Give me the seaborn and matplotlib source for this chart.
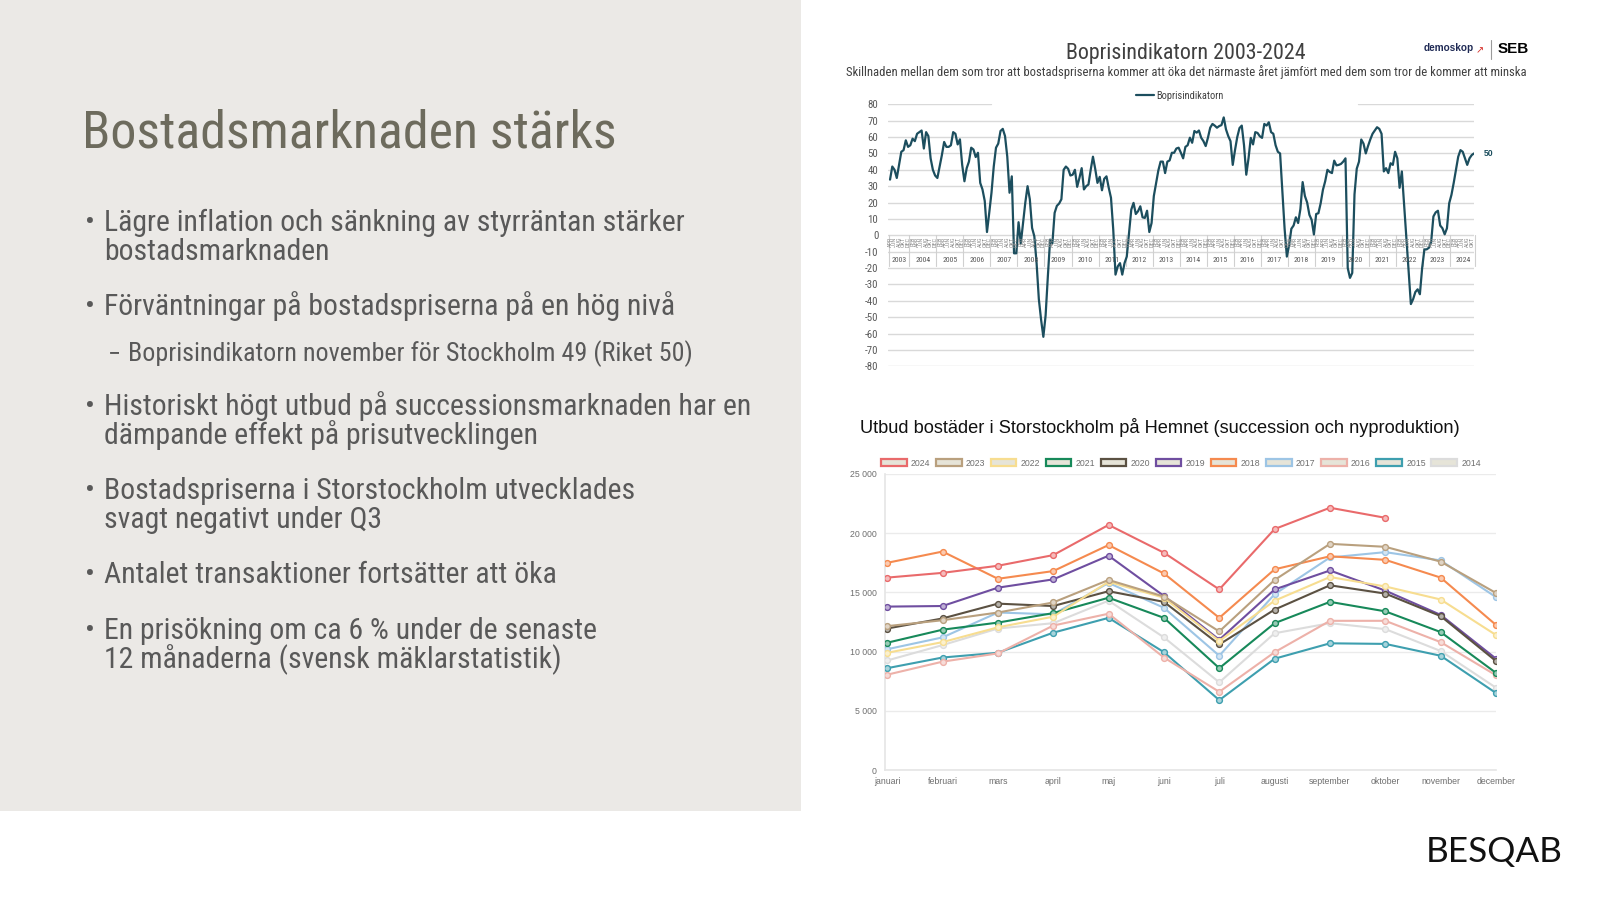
import numpy as np
import pandas as pd
import seaborn as sns
import matplotlib
matplotlib.use("Agg")
import matplotlib.pyplot as plt
from matplotlib import font_manager
from matplotlib.patches import Rectangle, Patch
from matplotlib.lines import Line2D
from matplotlib.colors import to_rgb

# ---------------- data ----------------
slide_title = "Bostadsmarknaden stärks"
bullets = [
    ("•", ["Lägre inflation och sänkning av styrräntan stärker", "bostadsmarknaden"]),
    ("•", ["Förväntningar på bostadspriserna på en hög nivå"]),
    ("−", ["Boprisindikatorn november för Stockholm 49 (Riket 50)"]),
    ("•", ["Historiskt högt utbud på successionsmarknaden har en", "dämpande effekt på prisutvecklingen"]),
    ("•", ["Bostadspriserna i Storstockholm utvecklades", "svagt negativt under Q3"]),
    ("•", ["Antalet transaktioner fortsätter att öka"]),
    ("•", ["En prisökning om ca 6 % under de senaste", "12 månaderna (svensk mäklarstatistik)"]),
]

bpi_title = "Boprisindikatorn 2003-2024"
bpi_subtitle = ("Skillnaden mellan dem som tror att bostadspriserna kommer att öka det närmaste året "
                "jämfört med dem som tror de kommer att minska")
bpi_label = "Boprisindikatorn"
bpi_start = "2003-04"
bpi_values = [
    34, 42, 40, 35, 43, 51, 52, 58, 54, 55,
    59, 57.5, 62, 63, 64, 53, 63, 60.6, 47, 40,
    36.5, 35, 42, 49, 57, 54, 54, 55, 63, 62,
    55.5, 58.6, 43, 33, 41, 45, 53.5, 52.4, 47.8, 50.4,
    32, 28, 21, 2, 13.7, 26, 42, 53.5, 56, 63.7,
    65, 60.6, 48, 26, 36, -11, -11, 8, -5, 7.5,
    20, 30, 22, 4.5, -0.6, -17, -39, -51.6, -62, -49,
    -25, -2.6, -5, 13.7, 18, 19.4, 22, 40, 42, 40.6,
    36.5, 37, 40, 29.6, 35, 41, 28, 30, 31,
    40, 48, 40.6, 32, 35.7, 27.5, 34.5, 36, 29, 22.9,
    3.5, -24, -19, -17, -24, -17, -13, 1.4, 15.7, 19.8,
    13, 14.7, 17.7, 11, 10.6, 15, 2, 7.5, 24, 32,
    39.6, 45, 45, 38, 45, 45.7, 50.4, 50.4, 53, 53.5,
    50.4, 47, 54, 55, 59.6, 56.5, 63.7, 62.7, 64, 59.6,
    57.5, 54.5, 59.6, 65.7, 68, 67, 65.7, 66.7, 67.3, 72,
    64.7, 60.6,
    57.5, 43, 52, 60, 65.5, 67, 55, 37, 47, 59.5,
    55.5, 63, 62.5, 60.5, 59.5, 68, 67, 69, 63, 62,
    55, 51, 50, 27, 4, -13, -6, 4, 6, 11,
    7.5, 16, 32.5, 24, 20, 12.5, 9.4, 0.5, 13, 13.5,
    19.6, 27.8, 33, 40, 38.7, 38, 45.6, 42.7, 43, 43.6,
    45, 47, -20, -26, -23, 25, 40.7, 45, 58.5, 56,
    50, 54.5, 58.5, 62, 64, 66, 65, 62, 39, 41,
    38, 44, 43, 51, 47, 29, 39, 18.6, -2, -22,
    -42, -39, -34.6, -33, -36, -20, -8.6, -8.6, -7.6, -4,
    11.5, 14, 15, 6, 4.3, 0.6, 4.3, 19.6, 24.7, 32,
    40, 48, 52, 51, 47, 43, 47, 49, 50,
]
bpi_end_label = "50"
bpi_yticks = list(range(-80, 81, 10))
month_abbr = {2: "FEB", 4: "APR", 6: "JUN", 8: "AUG", 10: "OKT", 12: "DEC"}

hem_title = "Utbud bostäder i Storstockholm på Hemnet (succession och nyproduktion)"
months = ["januari", "februari", "mars", "april", "maj", "juni", "juli",
          "augusti", "september", "oktober", "november", "december"]
nan = np.nan
y2024 = [16250, 16650, 17250, 18150, 20700, 18350, 15250, 20350, 22150, 21300, nan, nan]
y2023 = [12150, 12650, 13300, 14150, 16050, 14650, 11700, 16050, 19100, 18850, 17600, 14950]
y2022 = [9900, 10800, 12050, 12950, 15900, 14550, 10900, 14300, 16300, 15500, 14400, 11400]
y2021 = [10750, 11850, 12450, 13250, 14550, 12850, 8600, 12400, 14200, 13400, 11650, 8200]
y2020 = [11950, 12800, 14050, 13850, 15100, 14200, 10600, 13550, 15600, 14900, 13000, 9200]
y2019 = [13800, 13850, 15400, 16100, 18100, 14700, 11000, 15250, 16850, 15150, 13100, 9400]
y2018 = [17500, 18450, 16150, 16800, 19000, 16600, 12850, 16950, 18050, 17750, 16250, 12250]
y2017 = [10200, 11200, 13300, 13150, 15800, 13700, 9650, 14850, 17950, 18400, 17700, 14600]
y2016 = [8050, 9150, 9850, 12200, 13200, 9500, 6600, 9950, 12600, 12600, 10800, 8000]
y2015 = [8600, 9500, 9900, 11600, 12850, 9950, 5900, 9400, 10700, 10650, 9650, 6500]
y2014 = [9250, 10550, 11950, 12400, 14300, 11200, 7400, 11550, 12400, 11900, 10050, 6950]
hem_years = ["2024", "2023", "2022", "2021", "2020", "2019", "2018", "2017", "2016", "2015", "2014"]
hem_series = [y2024, y2023, y2022, y2021, y2020, y2019, y2018, y2017, y2016, y2015, y2014]
hem_colors = ["#E96A6B", "#B9A07E", "#F7DD90", "#17895A", "#5B5142", "#6F4EA0",
              "#F58A4F", "#9DC5E5", "#EDB1A9", "#3E9FAF", "#DCDCDC"]
hem_yticks = [0, 5000, 10000, 15000, 20000, 25000]


# ---------------- fonts ----------------
def pick(*names):
    for n in names:
        try:
            font_manager.findfont(font_manager.FontProperties(family=n), fallback_to_default=False)
            return n
        except Exception:
            pass
    return None


def find_narrow():
    prefs = ["liberation sans narrow", "arial narrow", "roboto condensed", "open sans condensed",
             "noto sans condensed", "noto sans semicondensed", "open sans semicondensed",
             "noto sans", "open sans", "roboto"]
    best = None
    for f in font_manager.fontManager.ttflist:
        name = f.name.lower()
        path = f.fname.lower()
        st = f.stretch
        cond = ("narrow" in name or "condensed" in name or "condensed" in path.split("/")[-1]
                or (isinstance(st, str) and "condensed" in st)
                or (isinstance(st, (int, float)) and st < 500))
        if not cond:
            continue
        if f.style != "normal":
            continue
        w = f.weight if isinstance(f.weight, (int, float)) else {"normal": 400, "regular": 400}.get(str(f.weight), 700)
        if w != 400:
            continue
        fn = path.split("/")[-1]
        if "extracondensed" in fn or "ultracondensed" in fn or "extra" in str(st):
            continue
        rank = None
        for i, p in enumerate(prefs):
            if name.startswith(p):
                rank = i
                break
        if rank is None:
            continue
        if "semicondensed" in fn:
            rank += 0.5
        if best is None or rank < best[0]:
            best = (rank, f.fname)
    return best[1] if best else None


SANS = pick("Liberation Sans", "Arial") or "DejaVu Sans"
sns.set_theme(style="white")
plt.rcParams["font.family"] = [SANS, "DejaVu Sans"]
plt.rcParams["axes.unicode_minus"] = False

narrow_path = find_narrow()
if narrow_path:
    def NP(size):
        return font_manager.FontProperties(fname=narrow_path, size=size)
else:
    def NP(size):
        return font_manager.FontProperties(family=[SANS, "DejaVu Sans"], size=size)

W, H = 1600, 900
fig = plt.figure(figsize=(16, 9), dpi=100)
fig.patch.set_facecolor("white")
renderer = fig.canvas.get_renderer()


def fx(x):
    return x / W


def fy(y):
    return 1 - y / H


def width_of(t):
    return t.get_window_extent(renderer).width


def fit(t, target):
    s = t.get_fontsize() * target / width_of(t)
    t.set_fontsize(s)
    return s


# left panel
fig.add_artist(Rectangle((0, fy(811)), fx(801), 811 / H, transform=fig.transFigure,
                         facecolor="#EBE9E6", edgecolor="none", zorder=0))

t_title = fig.text(fx(82), fy(147), slide_title, fontproperties=NP(34), color="#6D6B5D",
                   va="baseline", ha="left")
fit(t_title, 537)

baselines = [[231, 260], [315], [361], [415, 444], [499, 528], [583], [639, 668]]
targets = {0: 582, 1: 580, 3: 648}
main_texts, sub_texts, main_marks, sub_marks = [], [], [], []
first_lines = {}
for k, ((mark, lines), bls) in enumerate(zip(bullets, baselines)):
    sub = mark == "−"
    xm = 108 if sub else 85
    xt = 128 if sub else 104
    m = fig.text(fx(xm), fy(bls[0]), mark, fontproperties=NP(18), color="#595959", va="baseline")
    (sub_marks if sub else main_marks).append(m)
    for j, (ln, b) in enumerate(zip(lines, bls)):
        t = fig.text(fx(xt), fy(b), ln, fontproperties=NP(18), color="#595959", va="baseline")
        (sub_texts if sub else main_texts).append(t)
        if j == 0:
            first_lines[k] = t

sizes = [18 * tg / width_of(first_lines[k]) for k, tg in targets.items()]
main_size = float(np.median(sizes))
for t in main_texts + main_marks:
    t.set_fontsize(main_size)
sub_size = 18 * 564 / width_of(first_lines[2])
for t in sub_texts + sub_marks:
    t.set_fontsize(sub_size)

# ---------------- top chart: Boprisindikatorn ----------------
n = len(bpi_values)
periods = pd.period_range(bpi_start, periods=n, freq="M")
df_bpi = pd.DataFrame({"i": np.arange(n), "v": bpi_values})
LINE = "#1C4E5E"

ax1 = fig.add_axes([fx(888), fy(366.3), fx(1474 - 888), (366.3 - 104.3) / H])
ax1.set_facecolor("none")
for v in bpi_yticks[:-1]:
    ax1.axhline(v, color="#D9D9D9", lw=1.0, zorder=0)
ax1.axhline(80, xmin=0, xmax=0.176, color="#D9D9D9", lw=1.0, zorder=0)
ax1.axhline(80, xmin=0.802, xmax=1, color="#D9D9D9", lw=1.0, zorder=0)
sns.lineplot(data=df_bpi, x="i", y="v", ax=ax1, color=LINE, linewidth=1.6, legend=False, zorder=3)
ax1.set_xlim(-0.9, n - 1)
ax1.set_ylim(-80, 80)
ax1.set_yticks(bpi_yticks)
ax1.set_yticklabels([str(t) for t in bpi_yticks])
for lab in ax1.get_yticklabels():
    lab.set_fontproperties(NP(7.8 if narrow_path else 7.0))
    lab.set_color("#595959")
ax1.set_xticks([])
ax1.set_xlabel("")
ax1.set_ylabel("")
ax1.tick_params(axis="y", length=0, pad=7)
for s in ax1.spines.values():
    s.set_visible(False)

years = sorted(set(p.year for p in periods))
for yr in years:
    idx = [i for i, p in enumerate(periods) if p.year == yr]
    x0 = idx[0] - 0.5
    ax1.plot([x0, x0], [0, -19], color="#D0D0D0", lw=0.8, zorder=1, clip_on=False)
    ax1.text((idx[0] + idx[-1]) / 2, -15.3, str(yr), fontproperties=NP(5.6 if narrow_path else 5.0),
             color="#595959", ha="center", va="center")
ax1.plot([n - 0.5, n - 0.5], [0, -19], color="#D0D0D0", lw=0.8, zorder=1, clip_on=False)
for i, p in enumerate(periods):
    if p.month in month_abbr:
        ax1.text(i, -0.8, month_abbr[p.month], rotation=90, fontproperties=NP(4.4 if narrow_path else 3.9),
                 color="#8A8A8A", ha="center", va="top")
ax1.text(n - 1 + 4.3, bpi_values[-1], bpi_end_label, fontsize=6.2, fontweight="bold",
         color=LINE, va="center", ha="left", clip_on=False)

fig.legend(handles=[Line2D([], [], color=LINE, lw=1.6, label=bpi_label)], loc="center",
           bbox_to_anchor=(fx(1180), fy(96)), frameon=False, prop=NP(7.5 if narrow_path else 6.8),
           handlelength=1.7, handletextpad=0.2, labelcolor="#404040")

t_bt = fig.text(fx(1186), fy(53), bpi_title, fontproperties=NP(15), color="#404040",
                ha="center", va="center")
fit(t_bt, 240)
t_bs = fig.text(fx(1186), fy(72), bpi_subtitle, fontproperties=NP(9), color="#404040",
                ha="center", va="center")
fit(t_bs, 683)

# logos
fig.text(fx(1424), fy(48), "demoskop", fontsize=7.2, color="#1F2A55",
         fontweight="bold", va="center", ha="left")
fig.text(fx(1476), fy(50), "↗", fontsize=7, color="#D6302B", va="center", ha="left",
         family=["DejaVu Sans"])
fig.add_artist(Line2D([fx(1491), fx(1491)], [fy(40), fy(59)], color="#9A9A9A", lw=0.8,
                      transform=fig.transFigure))
fig.text(fx(1498), fy(49), "SEB", fontsize=11, fontweight="bold", color="black",
         va="center", ha="left")

# ---------------- bottom chart: Hemnet ----------------
rows = []
for yr, vals in zip(hem_years, hem_series):
    for m, v in enumerate(vals):
        rows.append({"year": yr, "m": m, "v": v})
df_hem = pd.DataFrame(rows)

ax2 = fig.add_axes([fx(885), fy(770), fx(1496 - 885), (770 - 474) / H])
ax2.set_facecolor("none")


def lighten(c, f=0.55):
    r, g, b = to_rgb(c)
    return (r + (1 - r) * f, g + (1 - g) * f, b + (1 - b) * f)


for yr, col in list(zip(hem_years, hem_colors))[::-1]:
    d = df_hem[df_hem["year"] == yr].dropna()
    sns.lineplot(data=d, x="m", y="v", ax=ax2, color=col, linewidth=1.5, marker="o",
                 markersize=4.2, markerfacecolor=lighten(col), markeredgecolor=col,
                 markeredgewidth=1.0, legend=False, zorder=3)

ax2.set_xlim(-0.04, 11)
ax2.set_ylim(0, 25000)
ax2.set_yticks(hem_yticks)
ax2.set_yticklabels([f"{t:,}".replace(",", " ") for t in hem_yticks], fontsize=6.3, color="#6F6F6F")
ax2.set_xticks(range(12))
ax2.set_xticklabels(months, fontsize=6.3, color="#6F6F6F")
ax2.set_xlabel("")
ax2.set_ylabel("")
ax2.tick_params(axis="y", length=0, pad=6)
ax2.tick_params(axis="x", length=0, pad=5)
ax2.grid(axis="y", color="#EBEBEB", lw=1.0, zorder=0)
ax2.set_axisbelow(True)
for side in ["top", "right"]:
    ax2.spines[side].set_visible(False)
ax2.spines["left"].set_color("#E6E6E6")
ax2.spines["bottom"].set_color("#E6E6E6")

handles = [Patch(facecolor="#E6E4D8", edgecolor=c, linewidth=1.6, label=y)
           for y, c in zip(hem_years, hem_colors)]
fig.legend(handles=handles, loc="center", bbox_to_anchor=(fx(1181), fy(463)), ncol=11,
           frameon=False, fontsize=6.3, handlelength=2.9, handleheight=0.9,
           columnspacing=0.65, handletextpad=0.5, labelcolor="#6F6F6F")

t_ht = fig.text(fx(1160), fy(428), hem_title, fontsize=12.9, color="#111111", ha="center", va="center")
fit(t_ht, 602)

# BESQAB wordmark
logo_font = pick("Lato", "Inter", "Open Sans") or SANS
t_logo = fig.text(fx(1426), fy(852), "BESQAB", family=[logo_font, "DejaVu Sans"], fontsize=25,
                  fontweight="normal", color="#111111", ha="left", va="center")
fit(t_logo, 137)

fig.savefig("out.png", dpi=100, facecolor="white")
